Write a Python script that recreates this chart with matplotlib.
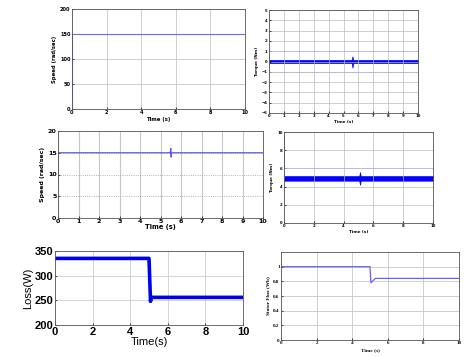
import numpy as np
import matplotlib
matplotlib.use("Agg")
from matplotlib import pyplot as plt

# speed (top left)
t_speed1 = [0, 0, 10]
w_speed1 = [0, 150, 150]

# torque (top right) - band envelope and spike
t_tq1 = [0, 5.55, 5.6, 5.65, 10]
tq1_hi = [0.15, 0.15, 0.5, 0.15, 0.15]
tq1_lo = [-0.15, -0.15, -0.6, -0.15, -0.15]

# speed (middle left)
t_speed2 = [0, 0, 5.48, 5.5, 5.52, 5.54, 10]
w_speed2 = [8, 15, 15, 16, 14, 15, 15]

# torque (middle right)
t_tq2 = [0, 5.05, 5.1, 5.15, 10]
tq2_hi = [5.15, 5.15, 5.6, 5.15, 5.15]
tq2_lo = [4.65, 4.65, 4.2, 4.65, 4.65]

# loss (bottom left)
t_loss = [0, 5.0, 5.08, 5.12, 10]
loss = [335, 335, 248, 256, 256]

# stator flux (bottom right)
t_flux = [0, 5.0, 5.05, 5.3, 10]
flux = [1.0, 1.0, 0.78, 0.84, 0.84]

W, H = 470, 357
fig = plt.figure(figsize=(4.7, 3.57), dpi=100)

def box(l, r, t, b):
    return [l / W, 1 - b / H, (r - l) / W, (b - t) / H]

def style(ax, fs, bold=True, family='DejaVu Sans'):
    wt = 'bold' if bold else 'normal'
    for lab in ax.get_xticklabels() + ax.get_yticklabels():
        lab.set_fontsize(fs)
        lab.set_fontweight(wt)
        lab.set_family(family)
    ax.tick_params(length=1.5, width=0.5, pad=1, direction='in')
    for s in ax.spines.values():
        s.set_linewidth(0.6)
        s.set_color('#555555')

# panel 1
ax1 = fig.add_axes(box(72, 245, 9, 109))
ax1.plot(t_speed1, w_speed1, color='#6a6af5', lw=0.8)
ax1.set_xlim(0, 10); ax1.set_ylim(0, 200)
ax1.set_xticks(range(0, 11, 2)); ax1.set_yticks(range(0, 201, 50))
ax1.grid(True, color='#c8c8c8', lw=0.6)
ax1.set_ylabel('Speed (rad/sec)', fontsize=3.8, fontweight='bold', labelpad=2)
ax1.set_xlabel('Time (s)', fontsize=3.8, fontweight='bold', labelpad=1)
style(ax1, 3.6)

# panel 2
ax2 = fig.add_axes(box(269, 418, 10, 113))
ax2.fill_between(t_tq1, tq1_lo, tq1_hi, color='#0000ff', lw=0.5)
ax2.axhline(1, color='#b0b0ff', lw=0.5)
ax2.axhline(-1, color='#b0b0ff', lw=0.5)
ax2.set_xlim(0, 10); ax2.set_ylim(-5, 5)
ax2.set_xticks(range(0, 11)); ax2.set_yticks(range(-5, 6))
ax2.grid(True, color='#bbbbbb', lw=0.5)
ax2.set_ylabel('Torque (Nm)', fontsize=3, fontweight='bold', labelpad=2)
ax2.set_xlabel('Time (s)', fontsize=3, fontweight='bold', labelpad=1)
style(ax2, 2.8)

# panel 3
ax3 = fig.add_axes(box(58, 263, 131, 218))
ax3.plot(t_speed2, w_speed2, color='#5a5af5', lw=0.9)
ax3.set_xlim(0, 10); ax3.set_ylim(0, 20)
ax3.set_xticks(range(0, 11)); ax3.set_yticks(range(0, 21, 5))
ax3.xaxis.grid(True, color='#c8c8c8', lw=0.8)
ax3.yaxis.grid(True, color='#999999', lw=0.6, ls=':')
ax3.set_ylabel('Speed (rad/sec)', fontsize=4.5, fontweight='bold', labelpad=2)
ax3.set_xlabel('Time (s)', fontsize=4.8, fontweight='bold', labelpad=0)
style(ax3, 4.6)

# panel 4
ax4 = fig.add_axes(box(284, 433, 132, 223))
ax4.fill_between(t_tq2, tq2_lo, tq2_hi, color='#0000ff', lw=0.5)
ax4.plot([0, 0], [4.9, 9.6], color='#8080ff', lw=0.6)
ax4.axhline(6, color='#b0b0ff', lw=0.5)
ax4.set_xlim(0, 10); ax4.set_ylim(0, 10)
ax4.set_xticks(range(0, 11, 2)); ax4.set_yticks(range(0, 11, 2))
ax4.grid(True, color='#bbbbbb', lw=0.5)
ax4.set_ylabel('Torque (Nm)', fontsize=3, fontweight='bold', labelpad=2)
ax4.set_xlabel('Time (s)', fontsize=3, fontweight='bold', labelpad=1)
style(ax4, 2.8)

# panel 5
ax5 = fig.add_axes(box(55, 243, 251, 325))
ax5.plot(t_loss, loss, color='#0000f0', lw=2.6)
ax5.set_xlim(0, 10); ax5.set_ylim(200, 350)
ax5.set_xticks(range(0, 11, 2)); ax5.set_yticks(range(200, 351, 50))
ax5.grid(True, color='#d0d0d0', lw=0.6)
ax5.set_ylabel('Loss(W)', fontsize=8, family='Liberation Sans', labelpad=1)
ax5.set_xlabel('Time(s)', fontsize=8, family='Liberation Sans', labelpad=0)
style(ax5, 8, family='Liberation Sans')
ax5.tick_params(pad=1.5)

# panel 6
ax6 = fig.add_axes(box(281, 459, 252, 340))
ax6.plot(t_flux, flux, color='#6464f5', lw=0.9)
ax6.set_xlim(0, 10); ax6.set_ylim(0, 1.2)
ax6.set_xticks(range(0, 11, 2)); ax6.set_yticks([0, 0.2, 0.4, 0.6, 0.8, 1.0])
ax6.set_yticklabels(['0', '0.2', '0.4', '0.6', '0.8', '1'])
ax6.grid(True, color='#c8c8c8', lw=0.6)
ax6.set_ylabel('Stator Flux (Wb)', fontsize=3.8, fontweight='bold', family='Liberation Serif', labelpad=2)
ax6.set_xlabel('Time (s)', fontsize=3.8, fontweight='bold', family='Liberation Serif', labelpad=2)
style(ax6, 3.6, family='Liberation Serif')

fig.savefig('out.png', dpi=100)
